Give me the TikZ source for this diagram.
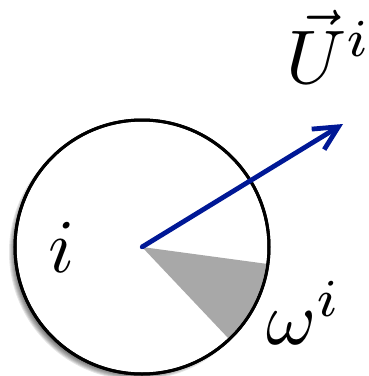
\documentclass[tikz,border=0pt]{standalone}
\usetikzlibrary{arrows.meta}
\definecolor{arrowblue}{RGB}{0,24,150}
\definecolor{wedgegray}{RGB}{168,168,168}
\tikzset{
  mathlabel/.style={scale=7.6, inner sep=0pt},
  disk/.style={circle, draw=black, line width=3pt, fill=white, minimum size=254pt, inner sep=0pt},
  vecarrow/.style={draw=arrowblue, line width=4.8pt, -{Straight Barb[length=24pt, width=24pt, line width=4.8pt]}}
}
\begin{document}
\begin{tikzpicture}[x=1pt, y=1pt]
\useasboundingbox (0,0) rectangle (368,-376);
% soft shadow
\foreach \k in {1,...,12} {
  \fill[black, opacity=0.1] (142-5,-247-5) circle[radius=116+\k];
}
\node[disk] (disk) at (142,-247) {};
\fill[wedgegray] (disk.center) -- ++(-46.6:125.5) arc[start angle=-46.6, end angle=-7.7, radius=125.5] -- cycle;
\draw[black, line width=3pt] (disk.center) circle[radius=127];
\coordinate (tip) at (343,-124);
\fill[arrowblue] (disk.center) circle[radius=2.2pt];
\draw[vecarrow] (disk.center) -- (tip);
\node[mathlabel] (labi) at (62,-247) {$i$};
\node[mathlabel] (labU) at (329,-47) {$\vec{U}^i$};
\node[mathlabel] (labw) at (304,-313) {$\omega^i$};
\end{tikzpicture}
\end{document}
